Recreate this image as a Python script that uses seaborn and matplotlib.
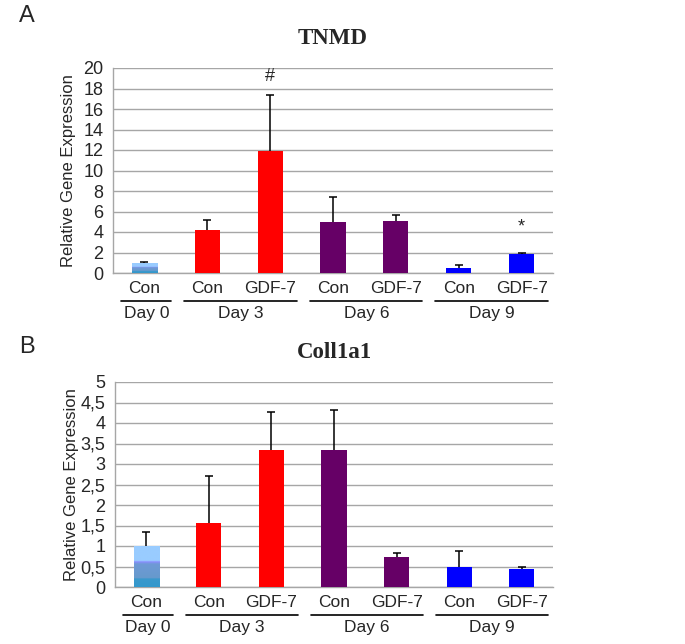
#!/usr/bin/env python3
"""Relative gene expression of TNMD and Coll1a1 over time (bar charts)."""
import numpy as np
import pandas as pd
import seaborn as sns
import matplotlib.pyplot as plt
import matplotlib.transforms as mtransforms
from matplotlib.colors import LinearSegmentedColormap

sns.set_style("white")
plt.rcParams["font.family"] = ["Liberation Sans", "DejaVu Sans"]

# ---- data ----
samples = ["d0_con", "d3_con", "d3_gdf", "d6_con", "d6_gdf", "d9_con", "d9_gdf"]
conditions = ["Con", "Con", "GDF-7", "Con", "GDF-7", "Con", "GDF-7"]
days = ["Day 0", "Day 3", "Day 6", "Day 9"]
day_groups = [(0, 0), (1, 2), (3, 4), (5, 6)]

tnmd_mean = [0.95, 4.2, 11.9, 5.0, 5.1, 0.45, 1.85]
tnmd_err = [0.1, 1.0, 5.5, 2.4, 0.55, 0.3, 0.08]
tnmd_marks = {2: ("#", 19.2), 6: ("*", 4.5)}
tnmd_ticks = [0, 2, 4, 6, 8, 10, 12, 14, 16, 18, 20]
tnmd_ticklabels = ["0", "2", "4", "6", "8", "10", "12", "14", "16", "18", "20"]

coll_mean = [1.0, 1.56, 3.33, 3.35, 0.72, 0.48, 0.43]
coll_err = [0.33, 1.14, 0.95, 0.96, 0.1, 0.4, 0.07]
coll_marks = {}
coll_ticks = [0, 0.5, 1, 1.5, 2, 2.5, 3, 3.5, 4, 4.5, 5]
coll_ticklabels = ["0", "0,5", "1", "1,5", "2", "2,5", "3", "3,5", "4", "4,5", "5"]

bar_colors = ["#6fa8dc", "#ff0000", "#ff0000", "#660066", "#660066", "#0000ff", "#0000ff"]
grid_color = "#a6a6a6"

# day 0 bar is drawn with a blue gradient
day0_cmap = LinearSegmentedColormap.from_list(
    "day0",
    [(0.0, "#3399cc"), (0.2, "#3a98cc"), (0.21, "#6699cc"), (0.55, "#6f9ad6"),
     (0.6, "#8a8cff"), (0.63, "#99ccff"), (1.0, "#99ccff")],
)


def draw_panel(ax, title, means, errs, marks, ticks, ticklabels):
    df = pd.DataFrame({"sample": samples, "value": means})
    sns.barplot(data=df, x="sample", y="value", hue="sample",
                palette=dict(zip(samples, bar_colors)), legend=False,
                width=0.4, saturation=1, edgecolor="none", ax=ax, zorder=3)

    patches = list(ax.patches)
    xs = [p.get_x() + p.get_width() / 2 for p in patches]
    eb = ax.errorbar(xs, means, yerr=[np.zeros(len(errs)), errs], fmt="none",
                     ecolor="black", elinewidth=1.1, capsize=3, capthick=1.1, zorder=4)
    # keep only the upper caps
    eb[1][0].set_visible(False)

    # gradient fill on the day 0 bar
    p0 = patches[0]
    grad = np.linspace(0, 1, 256).reshape(-1, 1)
    im = ax.imshow(grad, cmap=day0_cmap, origin="lower", aspect="auto",
                   extent=[p0.get_x(), p0.get_x() + p0.get_width(), 0, p0.get_height()],
                   zorder=3.5)
    im.set_clip_path(p0)

    for i, (m, y) in marks.items():
        ax.text(xs[i], y, m, ha="center", va="center", fontsize=13, zorder=5)

    ax.set_xlim(-0.5, len(samples) - 0.5)
    ax.set_ylim(ticks[0], ticks[-1])
    ax.set_yticks(ticks)
    ax.set_yticklabels(ticklabels, fontsize=13)
    ax.set_xticks(np.arange(len(samples) + 1) - 0.5)
    ax.set_xticklabels([])
    ax.tick_params(axis="x", length=5, width=1, color=grid_color, direction="out")
    ax.tick_params(axis="y", length=4, width=1, color=grid_color, pad=3)
    ax.set_xlabel("")
    ax.set_ylabel("Relative Gene Expression", fontsize=12)
    ax.yaxis.set_label_coords(-0.083, 0.5)
    ax.yaxis.grid(True, color=grid_color, linewidth=1, zorder=0)
    ax.set_axisbelow(True)
    for side in ("top", "right"):
        ax.spines[side].set_visible(False)
    for side in ("left", "bottom"):
        ax.spines[side].set_color(grid_color)
        ax.spines[side].set_linewidth(1)

    trans = mtransforms.blended_transform_factory(ax.transData, ax.transAxes)
    for i, c in enumerate(conditions):
        ax.text(xs[i], -0.078, c, transform=trans, ha="center", va="center", fontsize=12.5)
    for (a, b), d in zip(day_groups, days):
        ax.plot([a - 0.37, b + 0.42], [-0.137, -0.137], transform=trans,
                color="black", lw=1.2, clip_on=False)
        ax.text((a + b) / 2 + 0.03, -0.197, d, transform=trans,
                ha="center", va="center", fontsize=12.5)

    ax.text(0.5, 1.145, title, transform=ax.transAxes, ha="center", va="center",
            fontsize=16.5, fontweight="bold", family=["Liberation Serif", "DejaVu Serif"])


fig = plt.figure(figsize=(6.85, 6.44), dpi=100)
ax_a = fig.add_axes([113 / 685, 1 - 273 / 644, 440 / 685, 205 / 644])
ax_b = fig.add_axes([115 / 685, 1 - 587 / 644, 438 / 685, 205 / 644])

draw_panel(ax_a, "TNMD", tnmd_mean, tnmd_err, tnmd_marks, tnmd_ticks, tnmd_ticklabels)
draw_panel(ax_b, "Coll1a1", coll_mean, coll_err, coll_marks, coll_ticks, coll_ticklabels)

fig.text(27 / 685, 1 - 16 / 644, "A", ha="center", va="center", fontsize=17)
fig.text(27 / 685, 1 - 347 / 644, "B", ha="center", va="center", fontsize=17)

fig.savefig("out.png", dpi=100, facecolor="white")
